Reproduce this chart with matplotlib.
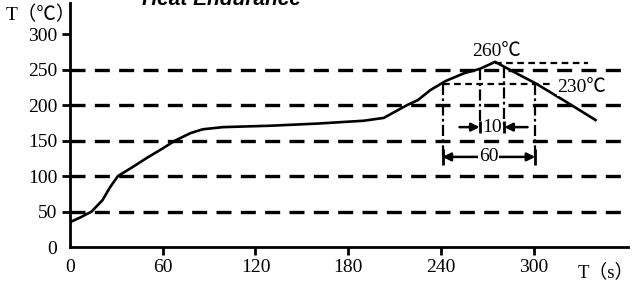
import matplotlib
matplotlib.use('Agg')
import matplotlib.pyplot as plt

# reflow profile
t = [0, 7, 14, 21, 26, 31, 40, 50, 60, 68, 78, 86, 99, 130, 160, 190, 203, 218, 225, 233,
     243, 255, 265, 275, 281, 290, 301, 320, 340]
temp = [35, 42, 50, 66, 84.5, 100, 112, 126, 139, 150, 160.6, 166, 169, 171, 174, 178, 182, 200, 207, 221,
        234, 245, 251, 261, 254, 243.5, 231, 206, 179]

xticks = [0, 60, 120, 180, 240, 300]
yticks = [0, 50, 100, 150, 200, 250, 300]
grid_levels = [50, 100, 150, 200, 250]

peak_temp = 260
liq_temp = 230
win60 = (241, 301)
win10 = (265, 281)

serif = ['Liberation Serif', 'Noto Sans CJK SC', 'DejaVu Serif']

fig = plt.figure(figsize=(6.37, 2.88), dpi=100)
ax = fig.add_axes([70 / 637, 1 - 247 / 288, 558 / 637, 244 / 288])
ax.set_xlim(0, 361)
ax.set_ylim(0, 344)

for s in ['top', 'right']:
    ax.spines[s].set_visible(False)
for s in ['left', 'bottom']:
    ax.spines[s].set_linewidth(2)

# dashed reference lines
for lv in grid_levels:
    ax.axhline(lv, color='black', lw=2.4, dashes=(4.5, 2.8), zorder=1)

ax.plot(t, temp, color='black', lw=1.9, zorder=3)

# short fine-dashed level lines
ax.plot([275, 335], [peak_temp, peak_temp], color='black', lw=1.6, dashes=(3, 2))
ax.plot([241, 311], [liq_temp, liq_temp], color='black', lw=1.6, dashes=(3, 2))

# vertical dash-dot markers
dd = dict(color='black', lw=1.6, dashes=(5, 1.5, 1.2, 1.5))
ax.plot([win60[0], win60[0]], [liq_temp, 125], **dd)
ax.plot([win60[1], win60[1]], [liq_temp, 125], **dd)
ax.plot([win10[0], win10[0]], [251, 165], **dd)
ax.plot([win10[1], win10[1]], [254, 165], **dd)

# 10 s arrows
ap = dict(arrowstyle='-|>', color='black', lw=1.8, mutation_scale=12, shrinkA=0, shrinkB=0)
ax.annotate('', xy=(win10[0], 169), xytext=(252, 169), arrowprops=ap)
ax.annotate('', xy=(win10[1], 169), xytext=(296, 169), arrowprops=ap)
ax.plot(win10, [169, 169], ls='none', marker='|', ms=9, mew=2, color='black')
ax.text(sum(win10) / 2, 169, '10', ha='center', va='center', fontsize=14, family=serif)

# 60 s arrow
ap2 = dict(arrowstyle='<|-|>', color='black', lw=1.8, mutation_scale=12, shrinkA=0, shrinkB=0)
ax.annotate('', xy=(win60[0], 127), xytext=(win60[1], 127), arrowprops=ap2)
ax.plot(win60, [127, 127], ls='none', marker='|', ms=11, mew=2, color='black')
ax.text(271, 127, '60', ha='center', va='center', fontsize=14, family=serif,
        bbox=dict(facecolor='white', edgecolor='none', pad=0.5))

ax.text(276, 276, '260℃', ha='center', va='center', fontsize=14, family=serif)
ax.text(331, 225, '230℃', ha='center', va='center', fontsize=14, family=serif,
        bbox=dict(facecolor='white', edgecolor='none', pad=0.3))

ax.set_xticks(xticks)
ax.set_yticks(yticks)
ax.set_xticklabels([str(v) for v in xticks], family=serif, fontsize=14)
ax.set_yticklabels([str(v) for v in yticks], family=serif, fontsize=14)
ax.tick_params(axis='both', direction='out', length=6, width=2, pad=3)
ax.xaxis.get_major_ticks()[0].tick1line.set_visible(False)
ax.yaxis.get_major_ticks()[0].tick1line.set_visible(False)

fig.text(6 / 637, 1 - 15 / 288, 'T（℃）', ha='left', va='center', fontsize=14, family=serif)
fig.text(634 / 637, 1 - 272 / 288, 'T（s）', ha='right', va='center', fontsize=13.5, family=serif)
fig.text(222 / 637, 1 - 5 / 288, 'Heat Endurance', ha='center', va='baseline', fontsize=15,
         family='Liberation Sans', weight='bold', style='italic')

fig.savefig('out.png', dpi=100)
